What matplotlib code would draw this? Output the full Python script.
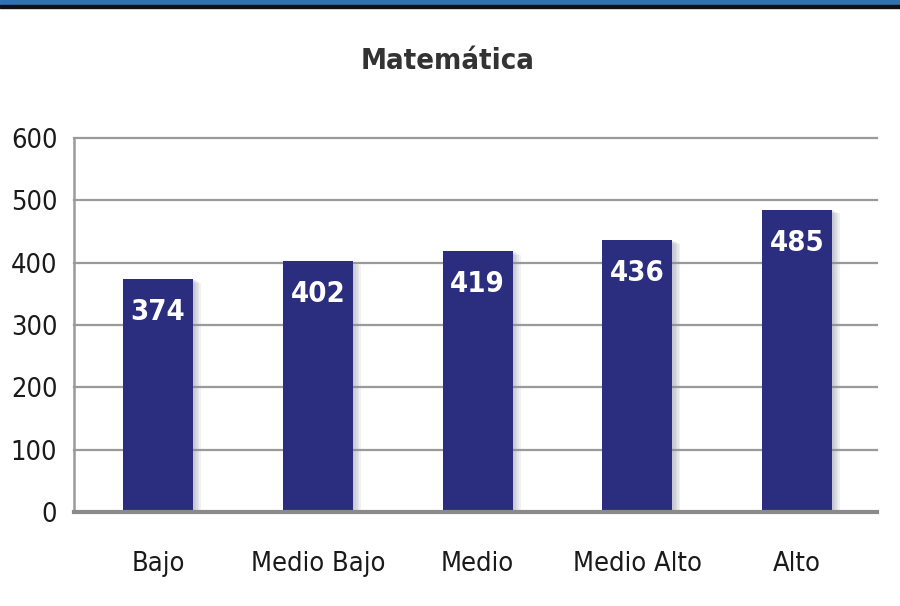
import numpy as np
import matplotlib
matplotlib.use("Agg")
from matplotlib import pyplot as plt
from matplotlib.patches import Rectangle

categorias = ["Bajo", "Medio Bajo", "Medio", "Medio Alto", "Alto"]
puntajes = [374, 402, 419, 436, 485]
yticks = [0, 100, 200, 300, 400, 500, 600]
titulo = "Matemática"

plt.rcParams['font.family'] = ['DejaVu Sans']
plt.rcParams['font.stretch'] = 'condensed'

fig = plt.figure(figsize=(9, 6.06), dpi=100)
ax = fig.add_axes([74 / 900, 1 - 512 / 606, (877 - 74) / 900, (512 - 138) / 606])

# franja azul superior
fig.patches.append(Rectangle((0, 1 - 5 / 606), 1, 5 / 606, transform=fig.transFigure,
                             color="#2e74b5", zorder=10))
fig.patches.append(Rectangle((0, 1 - 7.5 / 606), 1, 2.5 / 606, transform=fig.transFigure,
                             color="#111111", zorder=10))

x = np.arange(len(categorias))
w = 0.438
# sombra difusa
for k in range(1, 6):
    ax.bar(x + 0.005 * k, puntajes, width=w + 0.01 * k, bottom=-1.2 * k,
           color="#8888a0", alpha=0.11, zorder=2, linewidth=0)
bars = ax.bar(x, puntajes, width=w, color="#2b2d7f", zorder=3)

for b, v in zip(bars, puntajes):
    ax.text(b.get_x() + b.get_width() / 2, v - 53, str(v), ha="center", va="center",
            color="white", fontsize=21, fontweight="bold", zorder=4)

ax.set_ylim(0, 600)
ax.set_xlim(-0.526, len(categorias) - 1 + 0.5)
ax.set_yticks(yticks)
ax.set_xticks(x)
ax.set_xticklabels(categorias)
ax.yaxis.grid(True, color="#9a9a9a", linewidth=1.6, zorder=1)
for gl in ax.get_ygridlines():
    gl.set_clip_on(False)
ax.set_axisbelow(True)
for s in ["top", "right"]:
    ax.spines[s].set_visible(False)
ax.spines["left"].set_color("#9a9a9a")
ax.spines["left"].set_linewidth(1.8)
ax.spines["bottom"].set_color("#8a8a8a")
ax.spines["bottom"].set_linewidth(3)
ax.spines["bottom"].set_zorder(5)
ax.tick_params(axis="both", length=0, labelsize=19.5, colors="#1a1a1a")
ax.tick_params(axis="y", pad=12)
ax.tick_params(axis="x", pad=28)

fig.text(0.497, 1 - 69 / 606, titulo, ha="center", va="baseline", fontsize=21,
         fontweight="bold", color="#333333")

fig.savefig("out.png", dpi=100)
